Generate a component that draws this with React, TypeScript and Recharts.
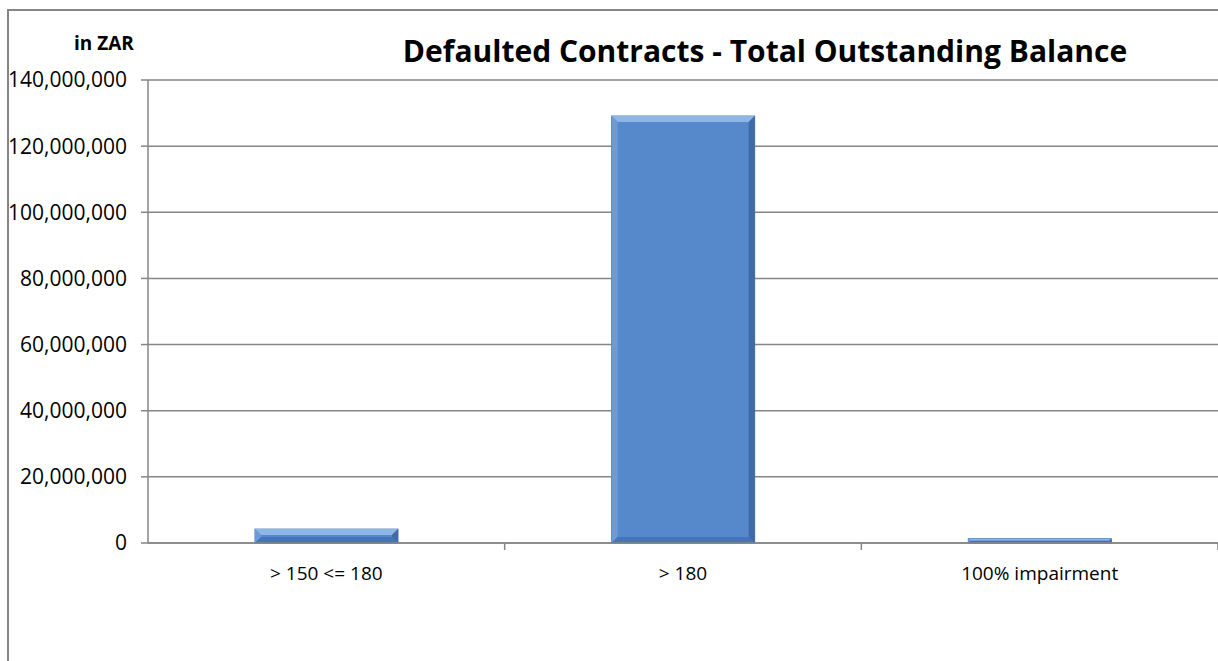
import React from "react";
import { BarChart, Bar, XAxis, YAxis, CartesianGrid } from "recharts";

const categories = ["> 150 <= 180", "> 180", "100% impairment"];
const balances = [4200000, 129100000, 1300000];
const yTicks = [0, 20000000, 40000000, 60000000, 80000000, 100000000, 120000000, 140000000];

const data = categories.map((name, i) => ({ name, balance: balances[i] }));

const GRAY = "#868686";
const FONT = "'Open Sans', 'Noto Sans', sans-serif";
const W = 1218;
const H = 661;
const PLOT_LEFT = 148;
const PLOT_RIGHT = 0;
const HALF_BAND = (W - PLOT_LEFT - PLOT_RIGHT) / categories.length / 2;

// bevelled bar like the excel one
const BevelBar = (props: any) => {
  const { x, y, width, height } = props;
  if (!height || height <= 0) return null;
  const b = Math.min(6, height / 2, width / 2);
  return (
    <g>
      <rect x={x} y={y} width={width} height={height} fill="#5589cc" stroke="#4a78b4" strokeWidth={1} />
      <polygon
        points={`${x},${y} ${x + width},${y} ${x + width - b},${y + b} ${x + b},${y + b}`}
        fill="#8fb4e6"
      />
      <polygon
        points={`${x},${y} ${x + b},${y + b} ${x + b},${y + height - b} ${x},${y + height}`}
        fill="#6e9bd8"
      />
      <polygon
        points={`${x + width},${y} ${x + width},${y + height} ${x + width - b},${y + height - b} ${x + width - b},${y + b}`}
        fill="#3f6aa6"
      />
      <polygon
        points={`${x},${y + height} ${x + width},${y + height} ${x + width - b},${y + height - b} ${x + b},${y + height - b}`}
        fill="#4775b3"
      />
    </g>
  );
};

const XTick = (props: any) => {
  const { x, y, payload } = props;
  const half = payload && payload.offset ? payload.offset : HALF_BAND;
  return (
    <g>
      <line x1={x + half} x2={x + half} y1={y - 8} y2={y - 1} stroke={GRAY} strokeWidth={1.5} />
      <text x={x} y={y + 29} textAnchor="middle" fontFamily={FONT} fontSize={19} fill="#000">
        {payload.value}
      </text>
    </g>
  );
};

export default function App() {
  return (
    <div style={{ position: "fixed", left: 0, top: 0, width: W, height: H, overflow: "hidden", background: "#fff" }}>
      {/* chart frame: only left and top edges are inside the picture */}
      <div
        style={{
          position: "absolute",
          left: 7,
          top: 9,
          width: W - 7,
          height: H - 9,
          boxSizing: "border-box",
          borderLeft: `2px solid ${GRAY}`,
          borderTop: `2px solid ${GRAY}`,
        }}
      />
      <div
        style={{
          position: "absolute",
          left: 74,
          top: 30,
          fontFamily: FONT,
          fontWeight: 700,
          fontSize: 19,
          color: "#000",
        }}
      >
        in ZAR
      </div>
      <div
        style={{
          position: "absolute",
          left: 0,
          width: 1530,
          top: 30,
          textAlign: "center",
          fontFamily: FONT,
          fontWeight: 700,
          fontSize: 30,
          color: "#000",
        }}
      >
        Defaulted Contracts - Total Outstanding Balance
      </div>
      <div style={{ position: "absolute", left: 0, top: 0 }}>
        <BarChart
          width={W}
          height={H}
          data={data}
          margin={{ top: 80, right: PLOT_RIGHT, left: 8, bottom: 88 }}
        >
          <CartesianGrid vertical={false} stroke={GRAY} strokeWidth={1.5} />
          <XAxis
            dataKey="name"
            height={30}
            axisLine={{ stroke: GRAY, strokeWidth: 1.5 }}
            tickLine={false}
            tick={<XTick />}
            interval={0}
          />
          <YAxis
            width={140}
            domain={[0, 140000000]}
            ticks={yTicks}
            interval={0}
            axisLine={{ stroke: GRAY, strokeWidth: 1.5 }}
            tickLine={{ stroke: GRAY, strokeWidth: 1.5 }}
            tickSize={7}
            tickMargin={14}
            tickFormatter={(v: number) => v.toLocaleString("en-US")}
            tick={{ fontFamily: FONT, fontSize: 21, fill: "#000" }}
          />
          <Bar dataKey="balance" barSize={143} shape={<BevelBar />} isAnimationActive={false} />
        </BarChart>
      </div>
    </div>
  );
}
